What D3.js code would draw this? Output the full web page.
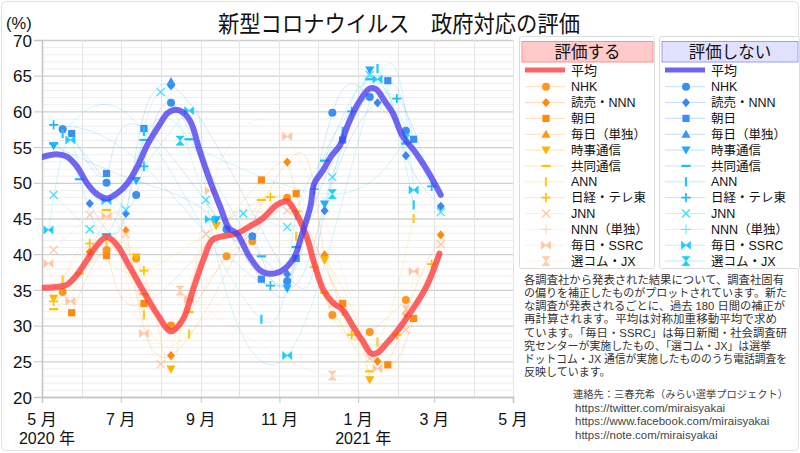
<!DOCTYPE html>
<html><head><meta charset="utf-8">
<script src="https://cdn.jsdelivr.net/npm/d3@7"></script>
<style>
body{margin:0;background:#fff}
svg{display:block}
text{font-family:"Liberation Sans","Noto Sans CJK JP",sans-serif}
</style>
</head><body><svg id="c" width="800" height="453"></svg>
<script>
// ---------------- DATA ----------------
const seriesNames = ["NHK","読売・NNN","朝日","毎日（単独）","時事通信","共同通信","ANN","日経・テレ東","JNN","NNN（単独）","毎日・SSRC","選コム・JX"];
const monthTicks = ["2020-05-01","2020-07-01","2020-09-01","2020-11-01","2021-01-01","2021-03-01","2021-05-01"];
const yearLabels = [["2020-05-01","2020 年"],["2021-01-01","2021 年"]];
const yTicks = [20,25,30,35,40,45,50,55,60,65,70];

// averages (評価する / 評価しない)
const avgYesDates = ["2020-05-01","2020-05-12","2020-05-20","2020-05-28","2020-06-05","2020-06-12","2020-06-20","2020-06-28","2020-07-08","2020-07-18","2020-07-29","2020-08-09","2020-08-18","2020-08-26","2020-09-03","2020-09-10","2020-09-18","2020-09-29","2020-10-09","2020-10-19","2020-10-30","2020-11-07","2020-11-14","2020-11-22","2020-11-28","2020-12-05","2020-12-12","2020-12-20","2020-12-28","2021-01-05","2021-01-11","2021-01-16","2021-01-23","2021-01-31","2021-02-10","2021-02-23","2021-03-05"];
const avgYesValues = [35.3,35.4,35.7,37.1,39.2,41.1,42.4,41.3,38.2,35.0,31.7,29.2,30.8,35.0,39.2,42.0,42.5,42.9,43.9,45.0,46.9,47.4,45.7,42.5,38.7,35.0,33.3,32.2,29.9,27.7,26.1,26.2,27.5,29.2,31.7,35.5,40.1];
const avgNoDates = ["2020-05-01","2020-05-12","2020-05-20","2020-05-28","2020-06-05","2020-06-12","2020-06-20","2020-06-28","2020-07-06","2020-07-14","2020-07-21","2020-07-31","2020-08-06","2020-08-11","2020-08-17","2020-08-24","2020-08-31","2020-09-08","2020-09-16","2020-09-23","2020-09-29","2020-10-09","2020-10-19","2020-11-01","2020-11-12","2020-11-18","2020-11-25","2020-11-28","2020-12-05","2020-12-11","2020-12-18","2020-12-24","2021-01-01","2021-01-10","2021-01-15","2021-01-21","2021-01-28","2021-02-04","2021-02-15","2021-02-25","2021-03-06"];
const avgNoValues = [53.6,54.0,53.7,52.3,49.9,48.5,47.8,48.5,49.9,52.3,55.1,58.1,59.7,60.2,60.0,58.6,54.6,50.4,46.7,43.6,42.9,39.6,37.5,37.5,39.4,42.5,46.7,49.9,51.8,53.7,55.3,58.1,61.1,63.2,63.1,61.6,59.7,56.7,54.1,51.3,48.3];

// each poll: [date, 評価する, 評価しない]
const dataNHK = [["2020-05-17",34.7,57.5],["2020-06-20",40.6,50.0],["2020-07-13",39.4,48.3],["2020-08-09",30.0,61.2],["2020-09-21",39.7,43.5],["2020-10-11",41.8,42.5],["2020-11-07",47.9,36.2],["2020-12-12",31.5,59.8],["2021-01-10",29.1,62.0],["2021-02-07",33.6,57.3]];
const dataYomiuri = [["2020-06-07",40.3,47.1],["2020-07-05",43.3,45.7],["2020-08-09",25.8,63.6],["2020-11-07",52.9,37.2],["2020-12-06",39.9,46.1],["2021-01-16",25.0,61.2],["2021-02-07",31.7,53.8],["2021-03-06",42.7,46.7]];
const dataAsahi = [["2020-05-24",31.8,56.9],["2020-06-20",39.8,51.3],["2020-07-19",33.1,57.6],["2020-10-18",50.4,36.5],["2020-11-14",48.5,39.4],["2020-12-20",33.1,56.0],["2021-01-24",24.5,64.3],["2021-02-13",31.0,56.1]];
const dataMainichi = [["2020-08-09",null,64.2]];
const dataJiji = [["2020-05-10",33.8,55.2],["2020-07-13",39.6,50.3],["2020-08-09",23.9,null],["2020-09-13",44.0,44.8],["2020-11-07",null,35.2],["2020-12-06",39.2,47.0],["2021-01-10",22.4,65.8]];
const dataKyodo = [["2020-05-10",32.3,55.5],["2020-05-30",37.3,50.5],["2020-06-20",46.2,42.8],["2020-07-19",34.4,56.0],["2020-08-23",31.9,56.1],["2020-10-18",47.6,39.7],["2020-11-14",46.0,41.0],["2020-12-06",34.6,53.1],["2021-01-10",23.6,64.5],["2021-02-07",null,55.5]];
const dataANN = [["2020-05-17",36.4,56.9],["2020-06-20",41.8,null],["2020-07-19",31.5,57.2],["2020-08-23",28.8,null],["2020-10-18",null,30.9],["2020-11-14",42.5,45.5],["2020-12-20",32.0,57.2],["2021-01-16",27.7,66.0],["2021-02-13",45.0,46.9]];
const dataNikkei = [["2020-05-10",33.4,58.1],["2020-06-07",41.5,null],["2020-07-19",37.7,52.3],["2020-10-25",48.0,35.6],["2020-11-28",38.2,49.1],["2020-12-27",28.7,60.0],["2021-01-31",28.7,61.8],["2021-02-27",38.6,49.5]];
const dataJNN = [["2020-05-10",40.6,48.3],["2020-06-07",45.5,43.5],["2020-07-05",42.8,46.2],["2020-08-01",24.6,62.7],["2020-09-05",42.8,47.6],["2020-10-04",41.8,45.7],["2020-11-07",46.1,43.8],["2020-12-12",33.0,50.8],["2021-01-10",25.4,65.1],["2021-02-07",29.4,null],["2021-03-06",41.4,45.9]];
const dataNNN = [];
const dataSSRC = [["2020-05-06",38.7,43.4],["2020-05-23",33.4,56.0],["2020-06-20",45.3,47.5],["2020-07-19",28.9,null],["2020-08-23",33.7,60.1],["2020-09-08",48.9,44.9],["2020-11-07",56.5,25.8],["2021-01-16",24.0,64.5],["2021-02-13",37.6,49.0]];
const dataSencom = [["2020-08-16",34.9,55.9],["2020-12-12",23.0,48.4],["2021-02-07",32.2,56.1]];
const seriesData = [dataNHK,dataYomiuri,dataAsahi,dataMainichi,dataJiji,dataKyodo,dataANN,dataNikkei,dataJNN,dataNNN,dataSSRC,dataSencom];

const noteLines = ["各調査社から発表された結果について、調査社固有","の偏りを補正したものがプロットされています。新た","な調査が発表されるごとに、過去 180 日間の補正が","再計算されます。平均は対称加重移動平均で求め","ています。「毎日・SSRC」は毎日新聞・社会調査研","究センターが実施したもの、「選コム・JX」は選挙","ドットコム・JX 通信が実施したもののうち電話調査を","反映しています。"];
const contactLines = ["連絡先：三春充希（みらい選挙プロジェクト）","https://twitter.com/miraisyakai","https://www.facebook.com/miraisyakai","https://note.com/miraisyakai"];

// ---------------- STYLE ----------------
const markerTypes = ["circle","diamond","square","triUp","triDown","dash","bar","plus","cross","thinPlus","bowtie","hourglass"];
const yesColors = ["#ff961e","#ff8a10","#ff8a10","#ff9a10","#ffb400","#ffc200","#ffc830","#ffc000","#ffc6a0","#ffd2aa","#ffc6a0","#ffcfa8"];
const noColors  = ["#3a8ff5","#3a86f5","#3a8ff5","#3a96f5","#20aaff","#22bdf8","#22c8fa","#1cbaff","#38dcff","#5ae2ff","#1ccffa","#1cd0f0"];
const textLen = [260,263,261,253,263,247,263,null];

// ---------------- DRAW ----------------
const svg = d3.select("#c");
const X0=42, X1=513, Y0=40, Y1=397;
const parse = d3.timeParse("%Y-%m-%d");
const x = d3.scaleTime().domain([parse("2020-05-01"), parse("2021-05-01")]).range([X0,X1]);
const y = d3.scaleLinear().domain([20,70]).range([Y1,Y0]);

svg.append("rect").attr("x",1.5).attr("y",1.5).attr("width",797).attr("height",449)
  .attr("rx",4).attr("fill","#fff").attr("stroke","#e2e2e2");

svg.append("defs").append("clipPath").attr("id","pc")
  .append("rect").attr("x",X0).attr("y",Y0).attr("width",X1-X0).attr("height",Y1-Y0);

// grid
const grid = svg.append("g");
grid.selectAll(".hm").data(d3.range(20,71)).join("line")
  .attr("x1",X0).attr("x2",X1).attr("y1",d=>y(d)+0.5).attr("y2",d=>y(d)+0.5)
  .attr("stroke",d=>d%5===0?"#d0d0d0":"#eeeeee").attr("stroke-width",d=>d%5===0?1.3:1);
grid.selectAll(".vm").data(d3.timeMonth.range(parse("2020-06-01"), parse("2021-05-02"))).join("line")
  .attr("x1",d=>Math.round(x(d))+0.5).attr("x2",d=>Math.round(x(d))+0.5).attr("y1",Y0).attr("y2",Y1)
  .attr("stroke","#e4e4e4");

// axes
const yAxis = svg.append("g").attr("transform",`translate(${X0},0)`)
  .call(d3.axisLeft(y).tickValues(yTicks).tickSize(8).tickPadding(2).tickFormat(d3.format("d")));
yAxis.select(".domain").attr("stroke","#c4c4c4").attr("stroke-width",1.5);
yAxis.selectAll(".tick line").attr("stroke","#c4c4c4");
yAxis.selectAll(".tick text").attr("font-size",17).attr("fill","#111").attr("dy","0.36em");

const xAxis = svg.append("g").attr("transform",`translate(0,${Y1})`)
  .call(d3.axisBottom(x).tickValues(monthTicks.map(parse)).tickSize(6).tickFormat(()=>""));
xAxis.select(".domain").attr("stroke","#c4c4c4").attr("stroke-width",1.5);
xAxis.selectAll(".tick line").attr("stroke","#c4c4c4");
svg.append("g").selectAll("text").data(monthTicks).join("text")
  .attr("x",d=>x(parse(d))).attr("y",425).attr("text-anchor","middle")
  .attr("font-size",16).attr("fill","#111").text(d=>(parse(d).getMonth()+1)+" 月");
svg.append("g").selectAll("text").data(yearLabels).join("text")
  .attr("x",d=>x(parse(d[0]))+5).attr("y",444).attr("text-anchor","middle")
  .attr("font-size",16).attr("fill","#111").text(d=>d[1]);

svg.append("text").attr("x",6).attr("y",29).attr("font-size",16.5).attr("fill","#111").text("(%)");

// title
svg.append("text").attr("x",218).attr("y",32).attr("font-size",23).attr("fill","#111")
  .attr("textLength",362).attr("lengthAdjust","spacingAndGlyphs").text("新型コロナウイルス　政府対応の評価");

// marker helper
function marker(g, type, cx, cy, color){
  const t = g.append("g").attr("transform",`translate(${cx},${cy})`);
  const P = d=>t.append("path").attr("d",d);
  switch(type){
    case "circle": t.append("circle").attr("r",4).attr("fill",color); break;
    case "diamond": P("M0,-4.6L4,0L0,4.6L-4,0Z").attr("fill",color); break;
    case "square": t.append("rect").attr("x",-3.6).attr("y",-3.6).attr("width",7.2).attr("height",7.2).attr("fill",color); break;
    case "triUp": P("M0,-4.5L4.6,3.6L-4.6,3.6Z").attr("fill",color); break;
    case "triDown": P("M0,4.5L4.6,-3.6L-4.6,-3.6Z").attr("fill",color); break;
    case "dash": P("M-4.6,0H4.6").attr("stroke",color).attr("stroke-width",2.2); break;
    case "bar": P("M0,-4.6V4.6").attr("stroke",color).attr("stroke-width",2.2); break;
    case "plus": P("M-4.6,0H4.6M0,-4.6V4.6").attr("stroke",color).attr("stroke-width",1.7); break;
    case "cross": P("M-4,-4L4,4M-4,4L4,-4").attr("stroke",color).attr("stroke-width",1.2); break;
    case "thinPlus": P("M-5,0H5M0,-5V5").attr("stroke",color).attr("stroke-width",1); break;
    case "bowtie": P("M-4.6,-4L0,0L-4.6,4ZM4.6,-4L0,0L4.6,4Z").attr("fill",color).attr("stroke",color).attr("stroke-width",0.6); break;
    case "hourglass": P("M-4,-4.6L4,-4.6L0,0ZM-4,4.6L4,4.6L0,0Z").attr("fill",color).attr("stroke",color).attr("stroke-width",0.6); break;
  }
}

const plot = svg.append("g").attr("clip-path","url(#pc)");
const thin = d3.line().x(d=>x(parse(d[0]))).y(d=>y(d[1])).curve(d3.curveNatural);

// faint series lines
seriesData.forEach((arr,i)=>{
  [[1,yesColors[i]],[2,noColors[i]]].forEach(([k,col])=>{
    const pts = arr.filter(d=>d[k]!=null).map(d=>[d[0],d[k]]);
    if(pts.length<2) return;
    plot.append("path").attr("d",thin(pts)).attr("fill","none")
      .attr("stroke",col).attr("stroke-opacity",0.25).attr("stroke-width",0.8);
  });
});

// markers
const mk = plot.append("g");
seriesData.forEach((arr,i)=>{
  arr.forEach(d=>{
    if(d[1]!=null) marker(mk, markerTypes[i], x(parse(d[0])), y(d[1]), yesColors[i]);
    if(d[2]!=null) marker(mk, markerTypes[i], x(parse(d[0])), y(d[2]), noColors[i]);
  });
});

// averages
const avgLine = d3.line().x(d=>x(parse(d[0]))).y(d=>y(d[1])).curve(d3.curveCatmullRom.alpha(0.5));
plot.append("path").attr("d",avgLine(avgYesDates.map((d,i)=>[d,avgYesValues[i]])))
  .attr("fill","none").attr("stroke","#ff3c3c").attr("stroke-opacity",0.8).attr("stroke-width",6).attr("stroke-linecap","round");
plot.append("path").attr("d",avgLine(avgNoDates.map((d,i)=>[d,avgNoValues[i]])))
  .attr("fill","none").attr("stroke","#4a3cf0").attr("stroke-opacity",0.78).attr("stroke-width",6).attr("stroke-linecap","round");

// legends
function legend(x0, w, title, hfill, hstroke, avgColor, colors){
  const g = svg.append("g");
  g.append("rect").attr("x",x0-2.5).attr("y",36.5).attr("width",w+4).attr("height",232)
    .attr("rx",2).attr("fill","#fff").attr("stroke","#dcdcdc");
  g.append("rect").attr("x",x0).attr("y",41.5).attr("width",w).attr("height",20.5)
    .attr("fill",hfill).attr("stroke",hstroke);
  g.append("text").attr("x",x0+w/2).attr("y",58).attr("text-anchor","middle")
    .attr("font-size",16.5).attr("fill","#111").text(title);
  g.append("line").attr("x1",x0+3).attr("x2",x0+43).attr("y1",70).attr("y2",70)
    .attr("stroke",avgColor).attr("stroke-width",5);
  g.append("text").attr("x",x0+49).attr("y",74.5).attr("font-size",13).attr("fill","#111").text("平均");
  seriesNames.forEach((n,i)=>{
    const yy = 86.7 + i*15.85;
    g.append("line").attr("x1",x0+3).attr("x2",x0+43).attr("y1",yy).attr("y2",yy)
      .attr("stroke",colors[i]).attr("stroke-opacity",0.35).attr("stroke-width",0.9);
    marker(g, markerTypes[i], x0+24, yy, colors[i]);
    g.append("text").attr("x",x0+49).attr("y",yy+4.6).attr("font-size",12.5).attr("fill","#111").text(n);
  });
}
legend(522, 131, "評価する", "#ffcaca", "#ff8f8f", "#ff6464", yesColors);
legend(662, 136, "評価しない", "#e2e2ff", "#9c9cf5", "#6e64f2", noColors);

// notes
const nt = svg.append("g");
noteLines.forEach((t,i)=>{
  const tx = nt.append("text").attr("x",524).attr("y",284+i*13.15).attr("font-size",11).attr("fill","#333").text(t);
  if(textLen[i]) tx.attr("textLength",textLen[i]).attr("lengthAdjust","spacingAndGlyphs");
});
contactLines.forEach((t,i)=>{
  const tx = nt.append("text").attr("x",i===0?573:575).attr("y",i===0?397.5:412+(i-1)*13.3)
    .attr("font-size",i===0?10.5:11.5).attr("fill","#444").text(t);
  if(i===0) tx.attr("textLength",215).attr("lengthAdjust","spacingAndGlyphs");
});
</script>
</body></html>
